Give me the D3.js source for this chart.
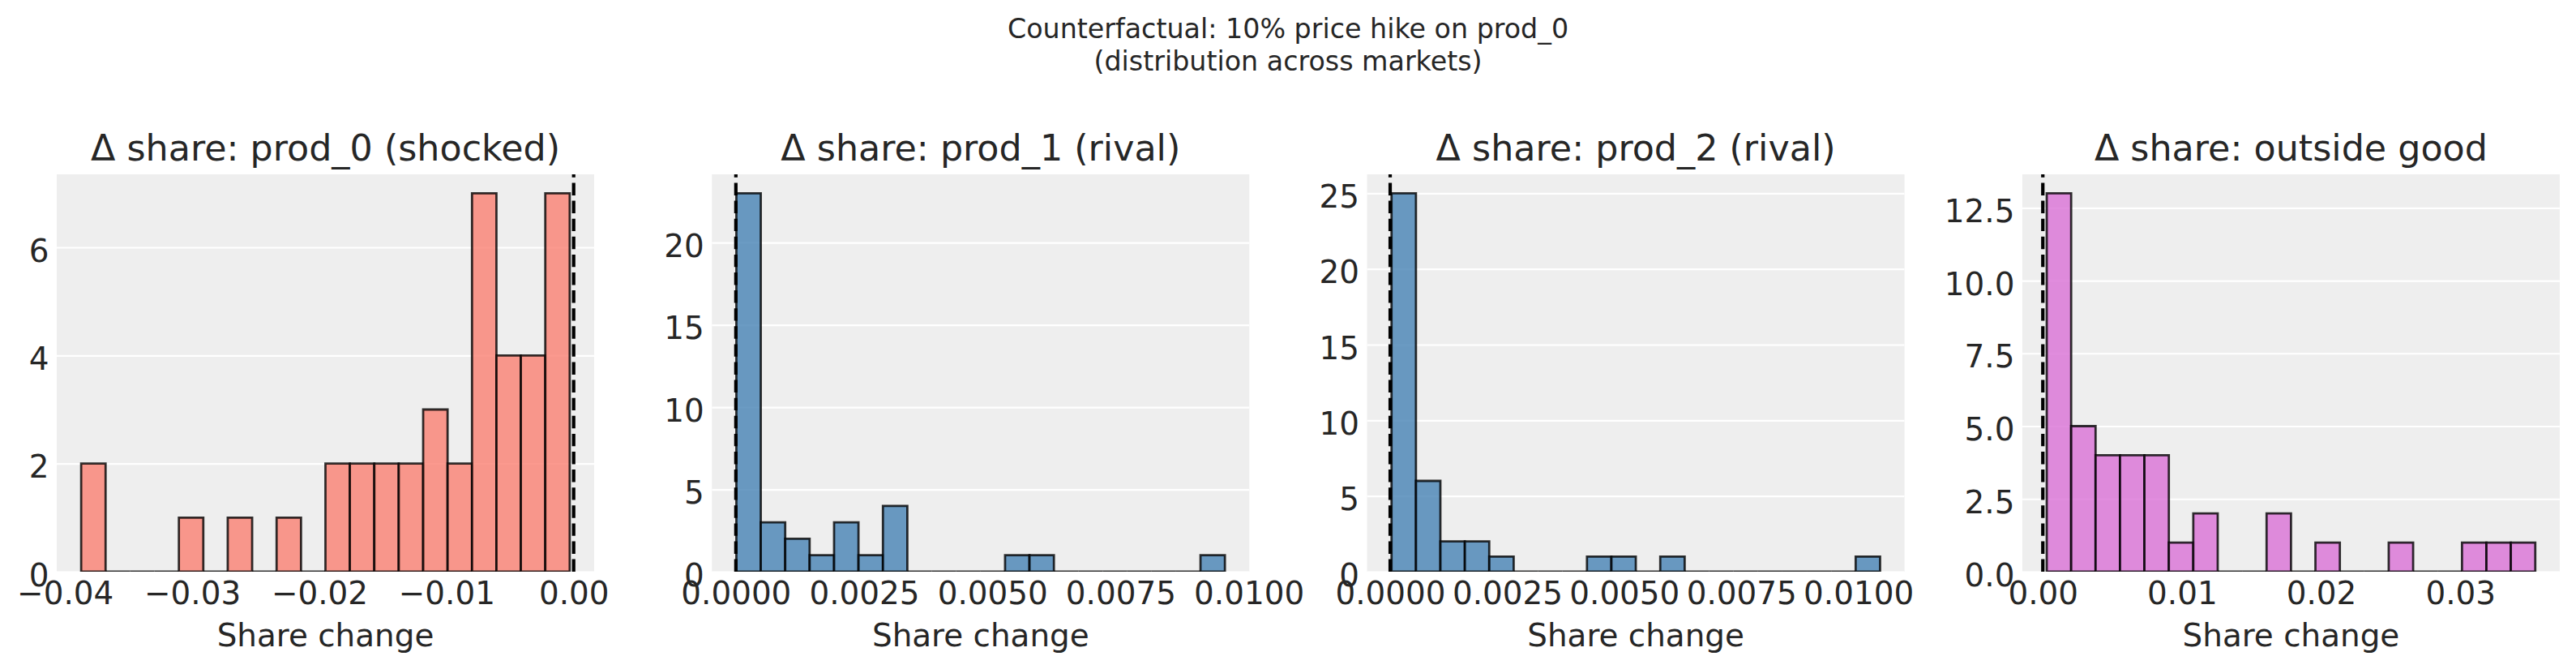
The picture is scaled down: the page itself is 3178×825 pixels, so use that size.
<!DOCTYPE html>
<html>
<head>
<meta charset="utf-8">
<script src="https://cdn.jsdelivr.net/npm/d3@7"></script>
<style>
  body { margin: 0; background: #fff; }
  svg text { font-family: "DejaVu Sans", sans-serif; fill: #262626; }
</style>
</head>
<body>
<svg id="chart" width="3178" height="825"></svg>
<script>
'use strict';

// histogram counts per bin (20 bins, 40 markets each)
const shockedCounts = [2, 0, 0, 0, 1, 0, 1, 0, 1, 0, 2, 2, 2, 2, 3, 2, 7, 4, 4, 7];
const rival1Counts  = [23, 3, 2, 1, 3, 1, 4, 0, 0, 0, 0, 1, 1, 0, 0, 0, 0, 0, 0, 1];
const rival2Counts  = [25, 6, 2, 2, 1, 0, 0, 0, 1, 1, 0, 1, 0, 0, 0, 0, 0, 0, 0, 1];
const outsideCounts = [13, 5, 4, 4, 4, 1, 2, 0, 0, 2, 0, 1, 0, 0, 1, 0, 0, 1, 1, 1];

// first and last bin edge of each histogram
const binLo = [-0.03873, 0.0000095, 0.0000294, 0.00028];
const binHi = [-0.00031, 0.009535, 0.010465, 0.03539];

const panelTitles = [
    'Δ share: prod_0 (shocked)',
    'Δ share: prod_1 (rival)',
    'Δ share: prod_2 (rival)',
    'Δ share: outside good'
];
const xTickValues = [
    [-0.04, -0.03, -0.02, -0.01, 0],
    [0, 0.0025, 0.005, 0.0075, 0.01],
    [0, 0.0025, 0.005, 0.0075, 0.01],
    [0, 0.01, 0.02, 0.03]
];
const yTickValues = [
    [0, 2, 4, 6],
    [0, 5, 10, 15, 20],
    [0, 5, 10, 15, 20, 25],
    [0, 2.5, 5, 7.5, 10, 12.5]
];
const xTickFormats = ['.2f', '.4f', '.4f', '.2f'];
const yTickFormats = ['d', 'd', 'd', '.1f'];
const fillColors = ['#fa8072', '#4682b4', '#4682b4', '#da70d6'];
const suptitleLines = ['Counterfactual: 10% price hike on prod_0', '(distribution across markets)'];
const xLabel = 'Share change';

const allCounts = [shockedCounts, rival1Counts, rival2Counts, outsideCounts];

class HistPanel {
    constructor(svg, idx, left) {
        this.idx = idx;
        this.width = 663;
        this.height = 490;
        this.g = svg.append('g')
            .attr('transform', `translate(${left}, 215)`);
        this.setUpScales();
        this.draw();
    }

    setUpScales() {
        const lo = binLo[this.idx],
              hi = binHi[this.idx],
              pad = (hi - lo) * 0.05;
        const counts = allCounts[this.idx];

        this.x = d3.scaleLinear()
            .domain([lo - pad, hi + pad])
            .range([0, this.width]);

        this.y = d3.scaleLinear()
            .domain([0, d3.max(counts) * 1.05])
            .range([this.height, 0]);

        const step = (hi - lo) / counts.length;
        this.bins = counts.map((c, i) => ({
            x0: lo + i * step,
            x1: lo + (i + 1) * step,
            count: c
        }));
    }

    draw() {
        const i = this.idx,
              x = this.x,
              y = this.y,
              g = this.g;

        const clipId = `clip${i}`;
        g.append('clipPath')
            .attr('id', clipId)
            .append('rect')
            .attr('width', this.width)
            .attr('height', this.height);

        g.append('rect')
            .attr('width', this.width)
            .attr('height', this.height)
            .attr('fill', '#eeeeee');

        // grid
        const xTicks = xTickValues[i].filter(v => v >= x.domain()[0] - 1e-9 && v <= x.domain()[1] + 1e-9);
        const gridX = g.append('g')
            .attr('clip-path', `url(#${clipId})`)
            .attr('transform', `translate(0, ${this.height})`)
            .call(d3.axisBottom(x).tickValues(xTicks).tickSize(-this.height).tickFormat(''));
        const gridY = g.append('g')
            .attr('clip-path', `url(#${clipId})`)
            .call(d3.axisLeft(y).tickValues(yTickValues[i]).tickSize(-this.width).tickFormat(''));
        [gridX, gridY].forEach(gr => {
            gr.select('.domain').remove();
            gr.selectAll('line')
                .attr('stroke', '#ffffff')
                .attr('stroke-width', 2.2);
        });

        // bars (empty bins still show their edge along the baseline)
        g.append('g')
            .attr('clip-path', `url(#${clipId})`)
            .selectAll('path.bar')
            .data(this.bins)
            .enter()
            .append('path')
                .attr('class', 'bar')
                .attr('d', d => `M${x(d.x0)},${y(0)}V${y(d.count)}H${x(d.x1)}V${y(0)}Z`)
                .attr('fill', fillColors[i])
                .attr('fill-opacity', 0.8)
                .attr('stroke', '#000')
                .attr('stroke-opacity', 0.8)
                .attr('stroke-width', 2.78);

        // zero reference line, dashes start at the bottom like matplotlib
        g.append('line')
            .attr('clip-path', `url(#${clipId})`)
            .attr('x1', x(0))
            .attr('x2', x(0))
            .attr('y1', this.height)
            .attr('y2', 0)
            .attr('stroke', '#000')
            .attr('stroke-width', 4.2)
            .attr('stroke-dasharray', '15.4,6.7');

        // tick labels
        const axX = g.append('g')
            .attr('transform', `translate(0, ${this.height})`)
            .call(d3.axisBottom(x)
                .tickValues(xTicks)
                .tickSize(0)
                .tickPadding(12.5)
                .tickFormat(d3.format(xTickFormats[i])));
        const axY = g.append('g')
            .call(d3.axisLeft(y)
                .tickValues(yTickValues[i])
                .tickSize(0)
                .tickPadding(9.5)
                .tickFormat(d3.format(yTickFormats[i])));
        [axX, axY].forEach(ax => {
            ax.select('.domain').remove();
            ax.attr('font-family', null).attr('font-size', null);
            ax.selectAll('text')
                .style('font-size', '38.9px')
                .attr('fill', '#262626');
        });
        axY.selectAll('text').attr('dy', '0.44em');

        g.append('text')
            .attr('x', this.width / 2)
            .attr('y', -17)
            .attr('text-anchor', 'middle')
            .style('font-size', '44.4px')
            .text(panelTitles[i]);

        g.append('text')
            .attr('x', this.width / 2)
            .attr('y', 582)
            .attr('text-anchor', 'middle')
            .style('font-size', '38.9px')
            .text(xLabel);
    }
}

const svg = d3.select('#chart');

svg.append('text')
    .attr('x', 1589)
    .attr('y', 47)
    .attr('text-anchor', 'middle')
    .style('font-size', '33.3px')
    .selectAll('tspan')
    .data(suptitleLines)
    .enter()
    .append('tspan')
        .attr('x', 1589)
        .attr('dy', (d, k) => k === 0 ? 0 : 40)
        .text(d => d);

allCounts.forEach((c, k) => new HistPanel(svg, k, 70 + k * 808.3));
</script>
</body>
</html>
